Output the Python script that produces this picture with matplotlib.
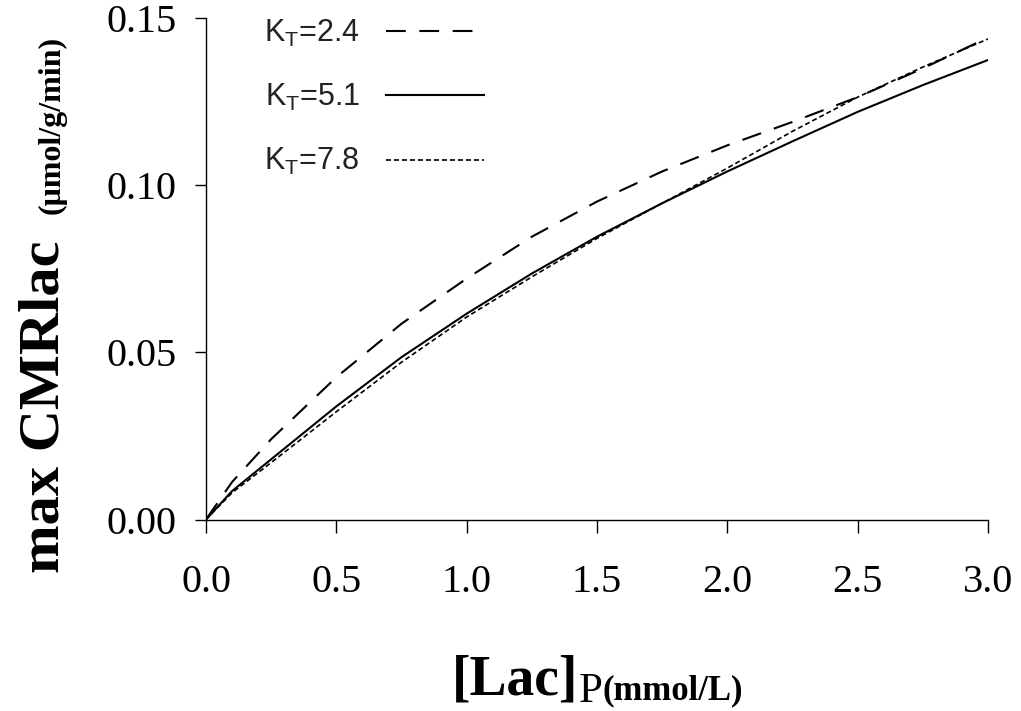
import matplotlib
matplotlib.use('Agg')
import matplotlib.pyplot as plt
from matplotlib.lines import Line2D

# [Lac]_P (mmol/L) y max CMRlac (umol/g/min)
lac_p = [0, 0.1, 0.25, 0.5, 0.75, 1.0, 1.25, 1.5, 1.75, 2.0, 2.25, 2.5, 2.75, 3.0]
cmr_kt24 = [0, 0.0112, 0.0240, 0.0425, 0.0585, 0.0720, 0.0845, 0.0950, 0.1040,
            0.1118, 0.1188, 0.1262, 0.1348, 0.1440]
cmr_kt51 = [0, 0.0085, 0.0180, 0.0338, 0.0485, 0.0615, 0.0735, 0.0845, 0.0945,
            0.1040, 0.1130, 0.1218, 0.1298, 0.1373]
cmr_kt78 = [0, 0.0080, 0.0170, 0.0322, 0.0470, 0.0605, 0.0725, 0.0840, 0.0945,
            0.1050, 0.1160, 0.1262, 0.1352, 0.1436]
etiquetas = ['K$_\\mathrm{T}$=2.4', 'K$_\\mathrm{T}$=5.1', 'K$_\\mathrm{T}$=7.8']
xticks = [0.0, 0.5, 1.0, 1.5, 2.0, 2.5, 3.0]
yticks = [0.00, 0.05, 0.10, 0.15]

plt.rcParams['mathtext.fontset'] = 'custom'
plt.rcParams['mathtext.rm'] = 'Liberation Sans'

W, H = 1021, 711
fig = plt.figure(figsize=(W / 100, H / 100), dpi=100)


def px(x, y):
    # pixeles (desde arriba a la izquierda) a fraccion de figura
    return x / W, 1 - y / H


x0, y0 = px(206, 519.5)
x1, y1 = px(988, 17.5)
ax = fig.add_axes([x0, y0, x1 - x0, y1 - y0])

estilo_guion = (0, (9.5, 6.5))
estilo_punto = (0, (3.0, 1.8))
ax.plot(lac_p, cmr_kt51, color='black', lw=1.5, linestyle='-')
ax.plot(lac_p, cmr_kt78, color='black', lw=1.2, linestyle=estilo_punto)
ax.plot(lac_p, cmr_kt24, color='black', lw=1.5, linestyle=estilo_guion)

ax.set_xlim(0, 3.0)
ax.set_ylim(0, 0.15)
ax.set_xticks(xticks)
ax.set_yticks(yticks)
ax.set_xticklabels(['%.1f' % v for v in xticks])
ax.set_yticklabels(['%.2f' % v for v in yticks])
ax.spines['top'].set_visible(False)
ax.spines['right'].set_visible(False)
for s in ['left', 'bottom']:
    ax.spines[s].set_linewidth(1.0)
ax.tick_params(axis='x', direction='out', length=9, width=1.0, pad=23,
               labelsize=29)
ax.tick_params(axis='y', direction='out', length=8, width=1.0, pad=13,
               labelsize=29)
for lab in ax.get_xticklabels() + ax.get_yticklabels():
    lab.set_family('Liberation Serif')

# leyenda: texto a la izquierda, linea a la derecha
manejadores = [
    Line2D([], [], color='black', lw=1.5, linestyle=estilo_guion),
    Line2D([], [], color='black', lw=1.5, linestyle='-'),
    Line2D([], [], color='black', lw=1.2, linestyle=estilo_punto),
]
bx, by = px(264, 18)
leg = ax.legend(manejadores, etiquetas, loc='upper left', bbox_to_anchor=(bx, by),
                bbox_transform=fig.transFigure, frameon=False, markerfirst=False,
                handlelength=3.2, handletextpad=0.85, labelspacing=1.08,
                borderpad=0, borderaxespad=0,
                prop={'family': 'Liberation Sans', 'size': 22})
for t in leg.get_texts():
    t.set_color('#222222')

# titulo del eje y: texto grande y subindice pequeno
fx, fy = px(58, 573)
fig.text(fx, fy, 'max CMRlac', rotation=90, rotation_mode='anchor',
         ha='left', va='baseline', fontsize=42, fontweight='bold',
         family='Liberation Serif')
fx, fy = px(60, 214)
fig.text(fx, fy, '(μmol/g/min)', rotation=90, rotation_mode='anchor',
         ha='left', va='baseline', fontsize=23, fontweight='bold',
         family='Liberation Serif')

# titulo del eje x
fx, fy = px(452, 695)
fig.text(fx, fy, '[Lac]', ha='left', va='baseline', fontsize=40,
         fontweight='bold', family='Liberation Serif')
fx, fy = px(579, 702)
fig.text(fx, fy, 'P', ha='left', va='baseline', fontsize=31,
         family='Liberation Serif')
fx, fy = px(603, 699)
fig.text(fx, fy, '(mmol/L)', ha='left', va='baseline', fontsize=25,
         fontweight='bold', family='Liberation Serif')

fig.savefig('out.png', dpi=100)
